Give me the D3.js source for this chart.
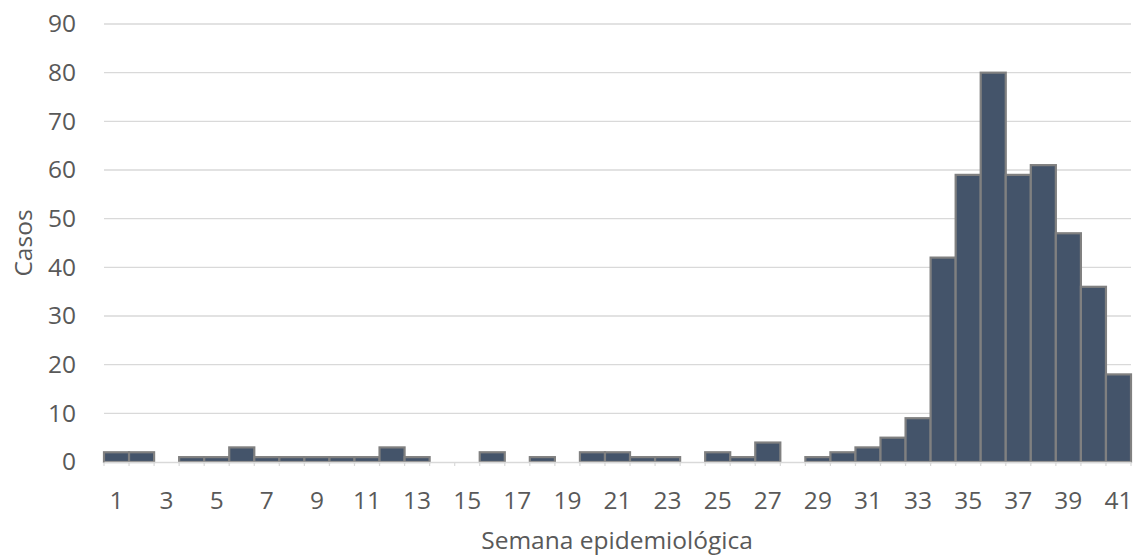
<!DOCTYPE html>
<html>
<head>
<meta charset="utf-8">
<script src="https://cdn.jsdelivr.net/npm/d3@7"></script>
<style>
  html, body { margin: 0; padding: 0; background: #fff; }
  svg { display: block; font-family: "Open Sans", "Noto Sans", sans-serif; }
</style>
</head>
<body>
<svg id="chart" width="1138" height="558"></svg>
<script>
// Weekly case counts by epidemiological week
const weeks = d3.range(1, 42);
const cases = [2, 2, 0, 1, 1, 3, 1, 1, 1, 1, 1, 3, 1, 0, 0, 2, 0, 1, 0, 2,
               2, 1, 1, 0, 2, 1, 4, 0, 1, 2, 3, 5, 9, 42, 59, 80, 59, 61, 47, 36, 18];
const yTicks = [0, 10, 20, 30, 40, 50, 60, 70, 80, 90];
const xTickLabels = weeks.filter(w => w % 2 === 1);
const yTitle = "Casos";
const xTitle = "Semana epidemiológica";

const svg = d3.select("#chart");
const margin = { left: 104, right: 1131, top: 24, bottom: 462 };
const textColor = "#595959";
const fontSize = 24.5;

const x = d3.scaleBand().domain(weeks).range([margin.left, margin.right]).padding(0);
const y = d3.scaleLinear().domain([0, 90]).range([margin.bottom, margin.top]);

// horizontal gridlines
svg.append("g")
  .selectAll("line")
  .data(yTicks.filter(t => t > 0))
  .join("line")
  .attr("x1", margin.left).attr("x2", margin.right)
  .attr("y1", d => y(d)).attr("y2", d => y(d))
  .attr("stroke", "#d9d9d9").attr("stroke-width", 1.3);

// y axis labels
const yAxis = d3.axisLeft(y).tickValues(yTicks).tickSize(0).tickPadding(0);
const gy = svg.append("g").attr("transform", `translate(76,0)`).call(yAxis);
gy.select(".domain").remove();
gy.selectAll("text")
  .attr("fill", textColor).attr("font-size", fontSize)
  .attr("font-family", "'Open Sans', sans-serif");

// bars
svg.append("g")
  .selectAll("rect")
  .data(weeks.map((w, i) => ({ w, v: cases[i] })).filter(d => d.v > 0))
  .join("rect")
  .attr("x", d => x(d.w))
  .attr("width", x.bandwidth())
  .attr("y", d => y(d.v))
  .attr("height", d => y(0) - y(d.v))
  .attr("fill", "#44546a")
  .attr("stroke", "#808080")
  .attr("stroke-width", 2.2);

// x axis line and small category ticks
const xAxis = d3.axisBottom(x).tickValues(xTickLabels).tickSize(0).tickPadding(30);
const gx = svg.append("g").attr("transform", `translate(0,${y(0)})`).call(xAxis);
gx.select(".domain").attr("stroke", "#d9d9d9").attr("stroke-width", 1.5);
gx.selectAll("text")
  .attr("fill", textColor).attr("font-size", fontSize)
  .attr("font-family", "'Open Sans', sans-serif");

svg.append("g")
  .selectAll("line")
  .data(d3.range(0, weeks.length + 1))
  .join("line")
  .attr("x1", i => margin.left + i * x.step())
  .attr("x2", i => margin.left + i * x.step())
  .attr("y1", y(0)).attr("y2", y(0) + 4)
  .attr("stroke", "#d9d9d9").attr("stroke-width", 1.2);

// axis titles
svg.append("text")
  .attr("x", 617)
  .attr("y", 549)
  .attr("text-anchor", "middle")
  .attr("fill", textColor).attr("font-size", fontSize)
  .text(xTitle);

svg.append("text")
  .attr("transform", `translate(32,243) rotate(-90)`)
  .attr("text-anchor", "middle")
  .attr("fill", textColor).attr("font-size", fontSize)
  .text(yTitle);
</script>
</body>
</html>
